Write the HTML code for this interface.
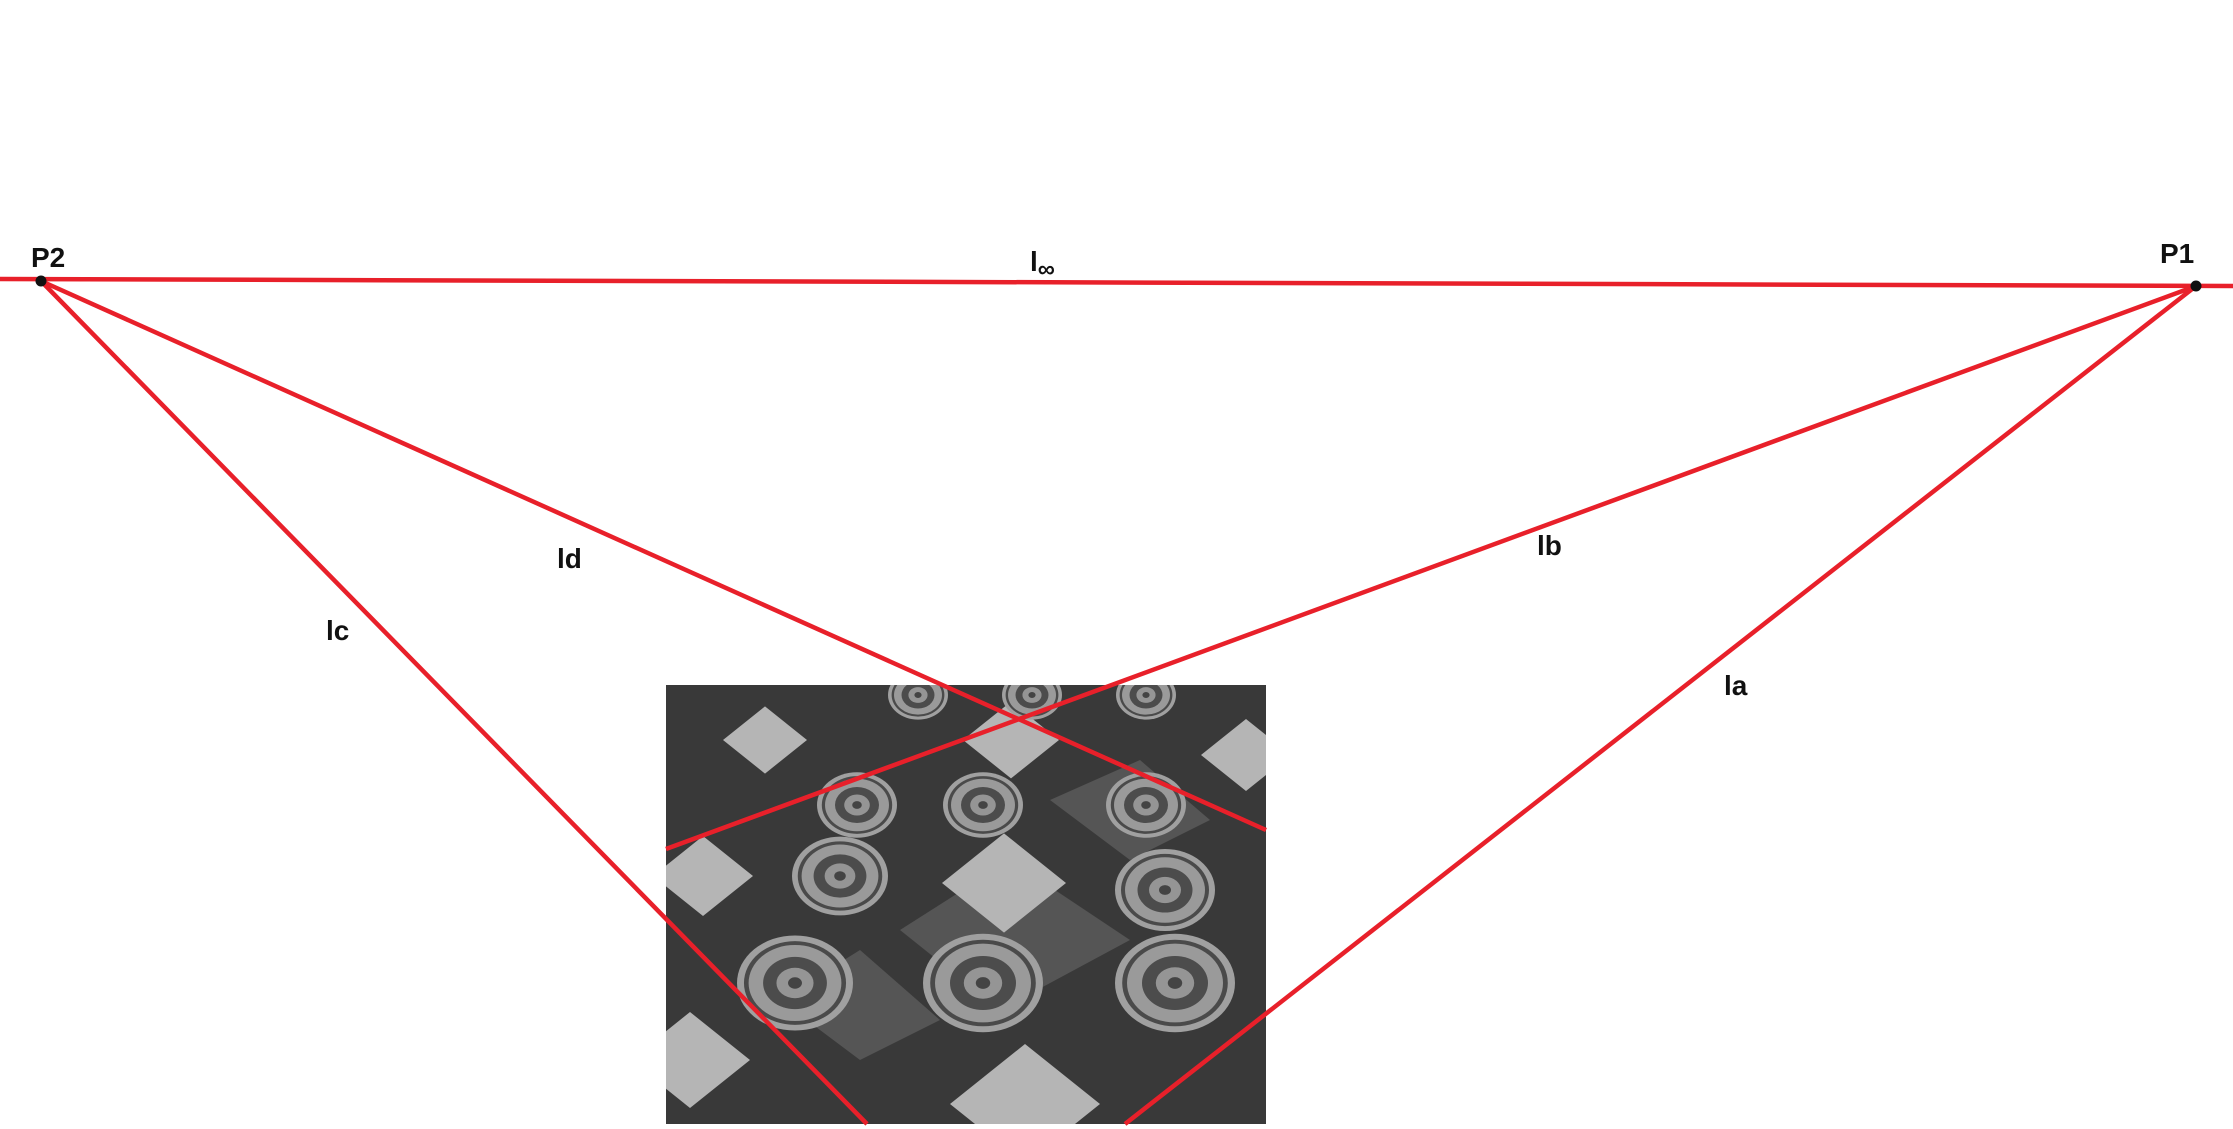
<!DOCTYPE html>
<html><head><meta charset="utf-8"><style>
html,body{margin:0;padding:0;background:#fff;}
svg{display:block;font-family:"Liberation Sans","DejaVu Sans",sans-serif;}
.lbl{font-weight:bold;font-size:28px;fill:#111;}
</style></head><body>
<svg id="c" width="2233" height="1129" viewBox="0 0 2233 1129">
<defs><clipPath id="photoClip"><rect x="666" y="685" width="600" height="439"/></clipPath></defs>
<g id="photo" clip-path="url(#photoClip)">
<rect x="666" y="685" width="600" height="439" fill="#393939"/>
<polygon points="900,930 1010,860 1130,940 1000,1010" fill="#555"/>
<polygon points="1050,800 1140,760 1210,820 1130,860" fill="#555"/>
<polygon points="780,1000 860,950 940,1020 860,1060" fill="#555"/>
</g>
<g id="lines"></g>
<g id="labels"></g>
</svg>
<script>
const NS='http://www.w3.org/2000/svg';
const pointNames=['P2','P1'];
const pointX=[41,2196];
const pointY=[281,286];
const lineNames=['l-inf','lc','ld','lb','la'];
const lineX1=[0,41,41,2196,2196];
const lineY1=[279,281,281,286,286];
const lineX2=[2233,867,1266,666,1125];
const lineY2=[286,1124,830,849,1124];
const labelText=['P2','P1','l','ld','lc','lb','la'];
const labelX=[31,2160,1030,557,326,1537,1724];
const labelY=[267,263,271,568,640,555,695];
const sqX=[765,1011,703,1004,1025,1246,690];
const sqY=[740,740,876,883,1104,755,1060];
const sqR=[42,48,50,62,75,45,60];
const medX=[918,1032,1146,857,983,1146,840,1165,795,983,1175];
const medY=[695,695,695,805,805,805,876,890,983,983,983];
const medR=[30,30,30,40,40,40,48,50,58,60,60];

const photo=document.getElementById('photo');
for(let i=0;i<sqX.length;i++){
  const p=document.createElementNS(NS,'polygon');
  const x=sqX[i],y=sqY[i],r=sqR[i];
  p.setAttribute('points',`${x},${y-r*0.8} ${x+r},${y} ${x},${y+r*0.8} ${x-r},${y}`);
  p.setAttribute('fill','#b5b5b5');
  
  
  photo.appendChild(p);
}
for(let i=0;i<medX.length;i++){
  const g=document.createElementNS(NS,'g');
  
  
  const rs=[[1,'#a0a0a0'],[0.88,'#4a4a4a'],[0.8,'#9a9a9a'],[0.55,'#4c4c4c'],[0.32,'#959595'],[0.12,'#444']];
  rs.forEach(([f,c])=>{const e=document.createElementNS(NS,'ellipse');
    e.setAttribute('cx',medX[i]);e.setAttribute('cy',medY[i]);
    e.setAttribute('rx',medR[i]*f);e.setAttribute('ry',medR[i]*f*0.82);
    e.setAttribute('fill',c);g.appendChild(e);});
  photo.appendChild(g);
}
const lg=document.getElementById('lines');
for(let i=0;i<lineNames.length;i++){
  const l=document.createElementNS(NS,'line');
  l.setAttribute('x1',lineX1[i]);l.setAttribute('y1',lineY1[i]);
  l.setAttribute('x2',lineX2[i]);l.setAttribute('y2',lineY2[i]);
  l.setAttribute('stroke','#e8202a');l.setAttribute('stroke-width','4.5');
  
  
  lg.appendChild(l);
}
for(let i=0;i<pointX.length;i++){
  const c=document.createElementNS(NS,'circle');
  c.setAttribute('cx',pointX[i]);c.setAttribute('cy',pointY[i]);c.setAttribute('r',5.5);
  c.setAttribute('fill','#111');
  
  
  lg.appendChild(c);
}
const lb=document.getElementById('labels');
for(let i=0;i<labelText.length;i++){
  const t=document.createElementNS(NS,'text');
  t.setAttribute('x',labelX[i]);t.setAttribute('y',labelY[i]);
  t.setAttribute('class','lbl');
  t.textContent=labelText[i];
  if(labelText[i]==='l'){
    const s=document.createElementNS(NS,'tspan');
    s.setAttribute('font-size','24');s.setAttribute('dy','6');
    s.textContent='∞';t.appendChild(s);
  }
  
  
  lb.appendChild(t);
}
</script>
</body></html>
